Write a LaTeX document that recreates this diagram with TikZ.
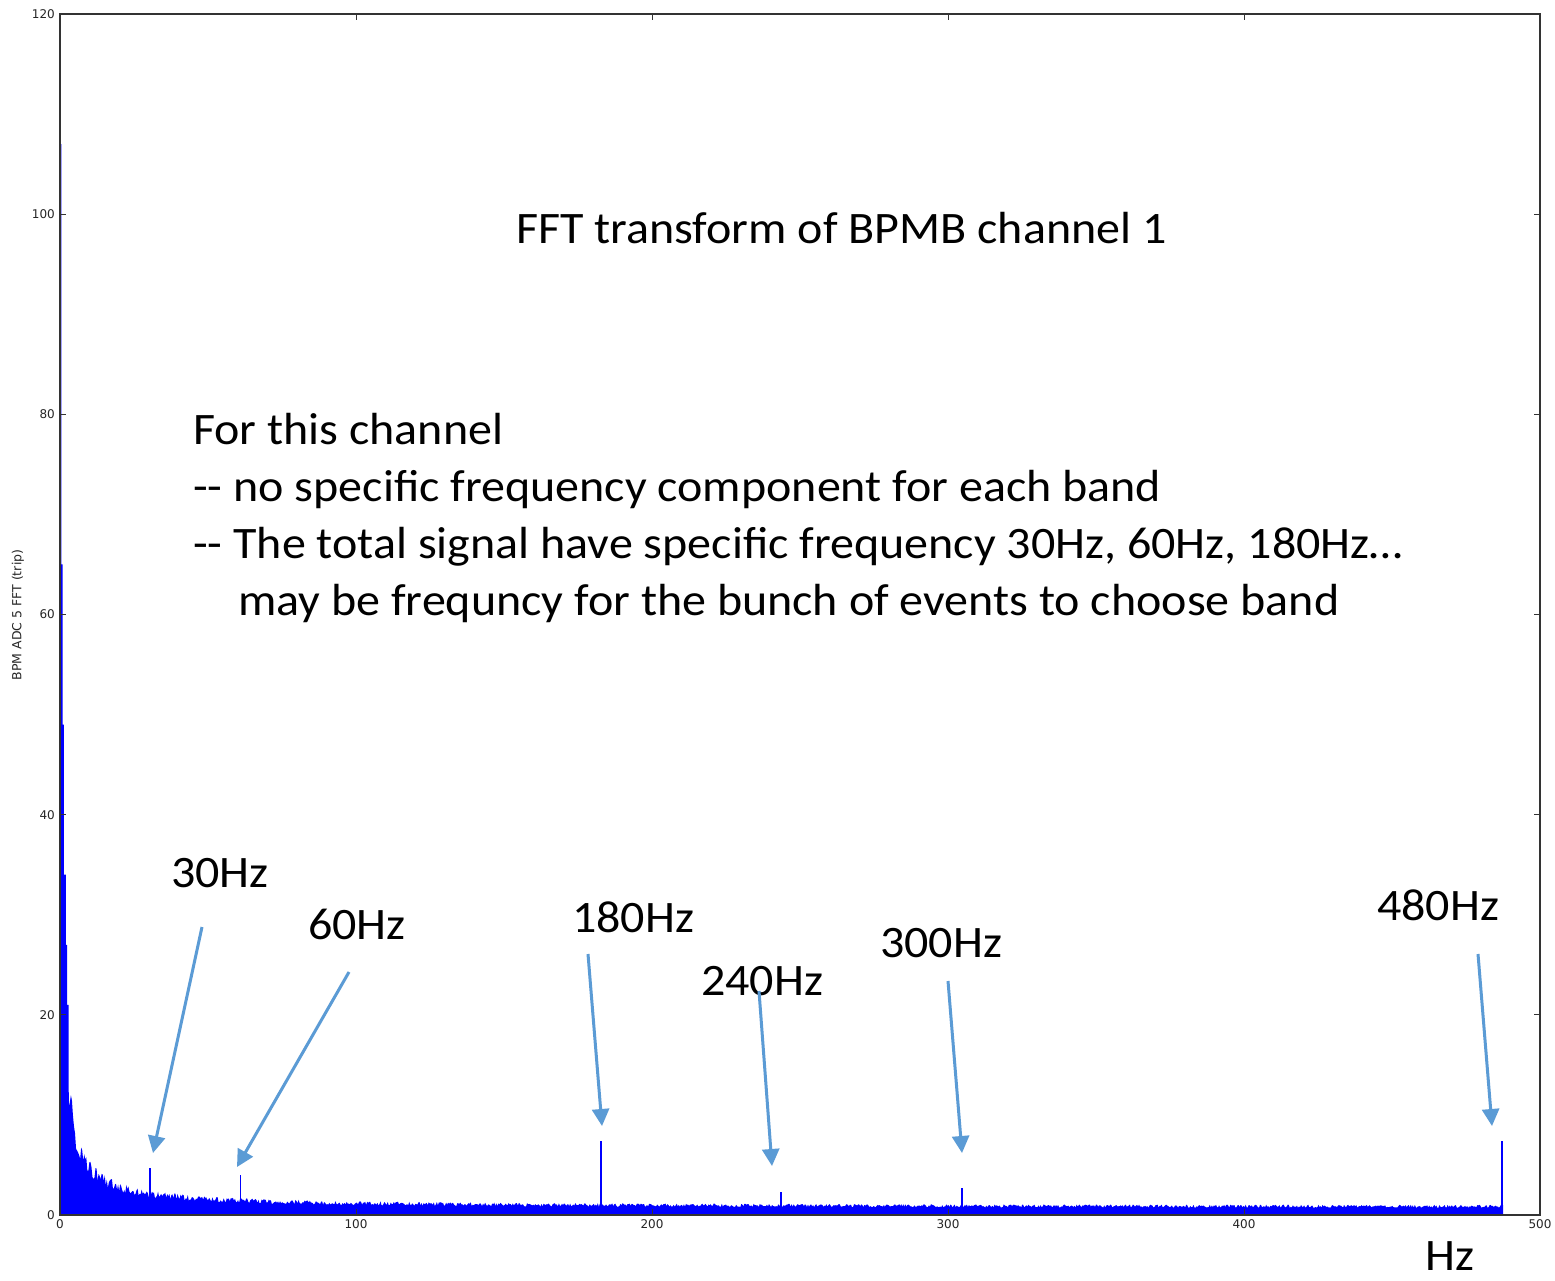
\documentclass[tikz,border=0pt]{standalone}
\usepackage{fontspec}
\setmainfont{Carlito}[FakeStretch=1.067]
\newfontfamily\mplfont{DejaVu Sans}
\usetikzlibrary{arrows.meta}
\definecolor{arrowblue}{HTML}{5B9BD5}
\definecolor{plotblue}{HTML}{0000FF}
\begin{document}
\begin{tikzpicture}[x=1pt,y=-1pt,
  ann/.style={font=\fontsize{45}{54}\selectfont, inner sep=0pt, anchor=base west},
  hzlabel/.style={font=\fontsize{45}{54}\selectfont, inner sep=0pt, anchor=base},
  pointer/.style={draw=arrowblue, line width=3pt, -{Triangle[length=17pt,width=17pt]}},
  ticklab/.style={font=\mplfont\fontsize{12}{14}\selectfont, inner sep=0pt, text=black!85},
  tickmark/.style={draw=black!80, line width=1pt},
  frame/.style={draw=black!80, line width=1.3pt},
  spike/.style={draw=plotblue, line width=1.6pt}]
\useasboundingbox[fill=white] (0,0) rectangle (1555,1280);
% data
\begin{scope}[shift={(60,1215)}, x=2.96pt, y=10.008pt]
  \pgfmathsetseed{7}
  \fill[plotblue] (0,0) -- (0,107) -- (0.5,107) -- (0.5,65) -- (0.9,65)
    -- (0.9,49) -- (1.3,49) -- (1.3,34) -- (2.0,34) -- (2.0,27) -- (2.4,27)
    -- (2.4,21) -- (2.9,21) -- (2.9,14)
    -- plot[domain=3.0:487.5, samples=1400] (\x,{(0.8+42/(\x+0.5))*(0.8+0.35*rnd)})
    -- (487.5,0) -- cycle;
  \draw[spike] (30.4,0) -- (30.4,4.7);
  \draw[spike] (61.0,0) -- (61.0,4.0);
  \draw[spike] (182.8,0) -- (182.8,7.4);
  \draw[spike] (243.6,0) -- (243.6,2.3);
  \draw[spike] (304.7,0) -- (304.7,2.7);
  \draw[spike] (487.2,0) -- (487.2,7.4);
\end{scope}
% frame and ticks
\draw[frame] (60,14) rectangle (1540,1215);
\foreach \k in {0,...,5}{
  \pgfmathsetmacro{\px}{60+296*\k}
  \pgfmathtruncatemacro{\lab}{100*\k}
  \draw[tickmark] (\px,1215) -- (\px,1209);
  \draw[tickmark] (\px,14) -- (\px,20);
  \node[ticklab, anchor=north] (xt\k) at (\px,1219) {\lab};
}
\foreach \k in {0,...,6}{
  \pgfmathsetmacro{\py}{1215-200.17*\k}
  \pgfmathtruncatemacro{\lab}{20*\k}
  \draw[tickmark] (60,\py) -- (66,\py);
  \draw[tickmark] (1540,\py) -- (1534,\py);
  \node[ticklab, anchor=east] (yt\k) at (55,\py) {\lab};
}
\node[font=\mplfont\fontsize{12.5}{14}\selectfont, rotate=90, inner sep=0pt, text=black!85] (ylab) at (18,615) {BPM ADC 5 FFT (trip)};
% texts
\node[ann] (title) at (516,243) {FFT transform of BPMB channel 1};
\node[ann] (l1) at (193,444) {For this channel};
\node[ann] (l2) at (193,501) {-{}- no specific frequency component for each band};
\node[ann] (l3) at (193,558) {-{}- The total signal have specific frequency 30Hz, 60Hz, 180Hz…};
\node[ann] (l4) at (238,615) {may be frequncy for the bunch of events to choose band};
% labels
\node[hzlabel] (h30) at (220,887) {30Hz};
\node[hzlabel] (h60) at (357,939) {60Hz};
\node[hzlabel] (h180) at (633,932) {180Hz};
\node[hzlabel] (h240) at (762,995) {240Hz};
\node[hzlabel] (h300) at (941,957) {300Hz};
\node[hzlabel] (h480) at (1438,920) {480Hz};
\node[hzlabel] (hz) at (1450,1270) {Hz};
% arrows
\coordinate (s30) at (202,927);  \coordinate (t30) at (153,1153);
\coordinate (s60) at (349,972);  \coordinate (t60) at (237,1167);
\coordinate (s180) at (588,954); \coordinate (t180) at (602,1126);
\coordinate (s240) at (759,991); \coordinate (t240) at (772,1166);
\coordinate (s300) at (948,981); \coordinate (t300) at (962,1153);
\coordinate (s480) at (1478,954); \coordinate (t480) at (1492,1126);
\draw[pointer] (s30) -- (t30);
\draw[pointer] (s60) -- (t60);
\draw[pointer] (s180) -- (t180);
\draw[pointer] (s240) -- (t240);
\draw[pointer] (s300) -- (t300);
\draw[pointer] (s480) -- (t480);
\end{tikzpicture}
\end{document}
